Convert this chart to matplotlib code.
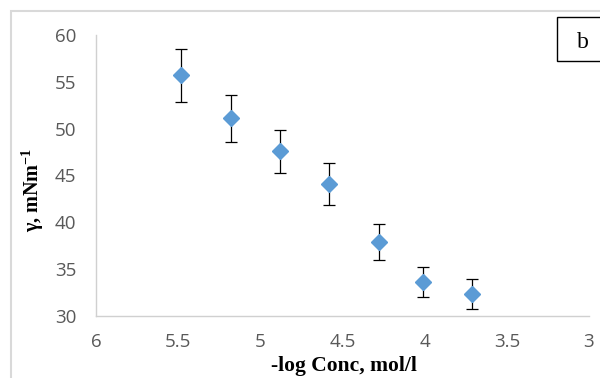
import numpy as np
import matplotlib.pyplot as plt
from matplotlib.patches import Rectangle

plt.rcParams['mathtext.fontset'] = 'custom'
plt.rcParams['mathtext.rm'] = 'Liberation Serif'
plt.rcParams['mathtext.bf'] = 'Liberation Serif:bold'

# data
log_conc = np.array([5.48, 5.18, 4.88, 4.58, 4.28, 4.01, 3.71])
gamma = np.array([55.7, 51.1, 47.6, 44.1, 37.9, 33.6, 32.3])
gamma_err = np.array([2.8, 2.5, 2.3, 2.2, 1.9, 1.6, 1.6])

x_ticks = [6, 5.5, 5, 4.5, 4, 3.5, 3]
x_tick_labels = ['6', '5.5', '5', '4.5', '4', '3.5', '3']
y_ticks = [30, 35, 40, 45, 50, 55, 60]

fig = plt.figure(figsize=(6, 3.78), dpi=100)
ax = fig.add_axes([96 / 600, 1 - 316 / 378, (589 - 96) / 600, (316 - 35) / 378])

ax.errorbar(log_conc, gamma, yerr=gamma_err, fmt='none', ecolor='black',
            elinewidth=0.9, capsize=4.3, capthick=0.9, zorder=2)
ax.plot(log_conc, gamma, linestyle='none', marker='D', markersize=8,
        color='#5B9BD5', markeredgecolor='#5B9BD5', zorder=3)

ax.set_xlim(6, 3)
ax.set_ylim(30, 60)
ax.set_xticks(x_ticks)
ax.set_xticklabels(x_tick_labels)
ax.set_yticks(y_ticks)

for s in ['top', 'right']:
    ax.spines[s].set_visible(False)
for s in ['left', 'bottom']:
    ax.spines[s].set_color('#D0D0D0')
    ax.spines[s].set_linewidth(1)
ax.tick_params(length=0, pad=14, labelsize=13.5, labelcolor='#595959')
for lab in ax.get_xticklabels() + ax.get_yticklabels():
    lab.set_family('Open Sans')
ax.tick_params(axis='x', pad=12)

fig.text(344 / 600, 1 - 371 / 378, '-log Conc, mol/l', fontsize=15.5,
         fontweight='bold', family='Liberation Serif', ha='center', va='baseline')
fig.text(33 / 600, 1 - 190 / 378, r'γ, mNm$^{\mathbf{-1}}$', fontsize=14.5,
         fontweight='bold', family='Liberation Serif', rotation=90,
         ha='center', va='center')

# outer chart border
fig.patches.append(Rectangle((11 / 600, -0.1), 1.2, 1 - 11 / 378 + 0.1,
                             transform=fig.transFigure, fill=False,
                             edgecolor='#D9D9D9', linewidth=1.5))
# panel label box
fig.patches.append(Rectangle((557 / 600, 1 - 61 / 378), 0.2, 44 / 378,
                             transform=fig.transFigure, fill=True, facecolor='white',
                             edgecolor='black', linewidth=1))
fig.text(583 / 600, 1 - 43 / 378, 'b', fontsize=17, family='Liberation Serif',
         ha='center', va='center')

plt.savefig('out.png', dpi=100)
